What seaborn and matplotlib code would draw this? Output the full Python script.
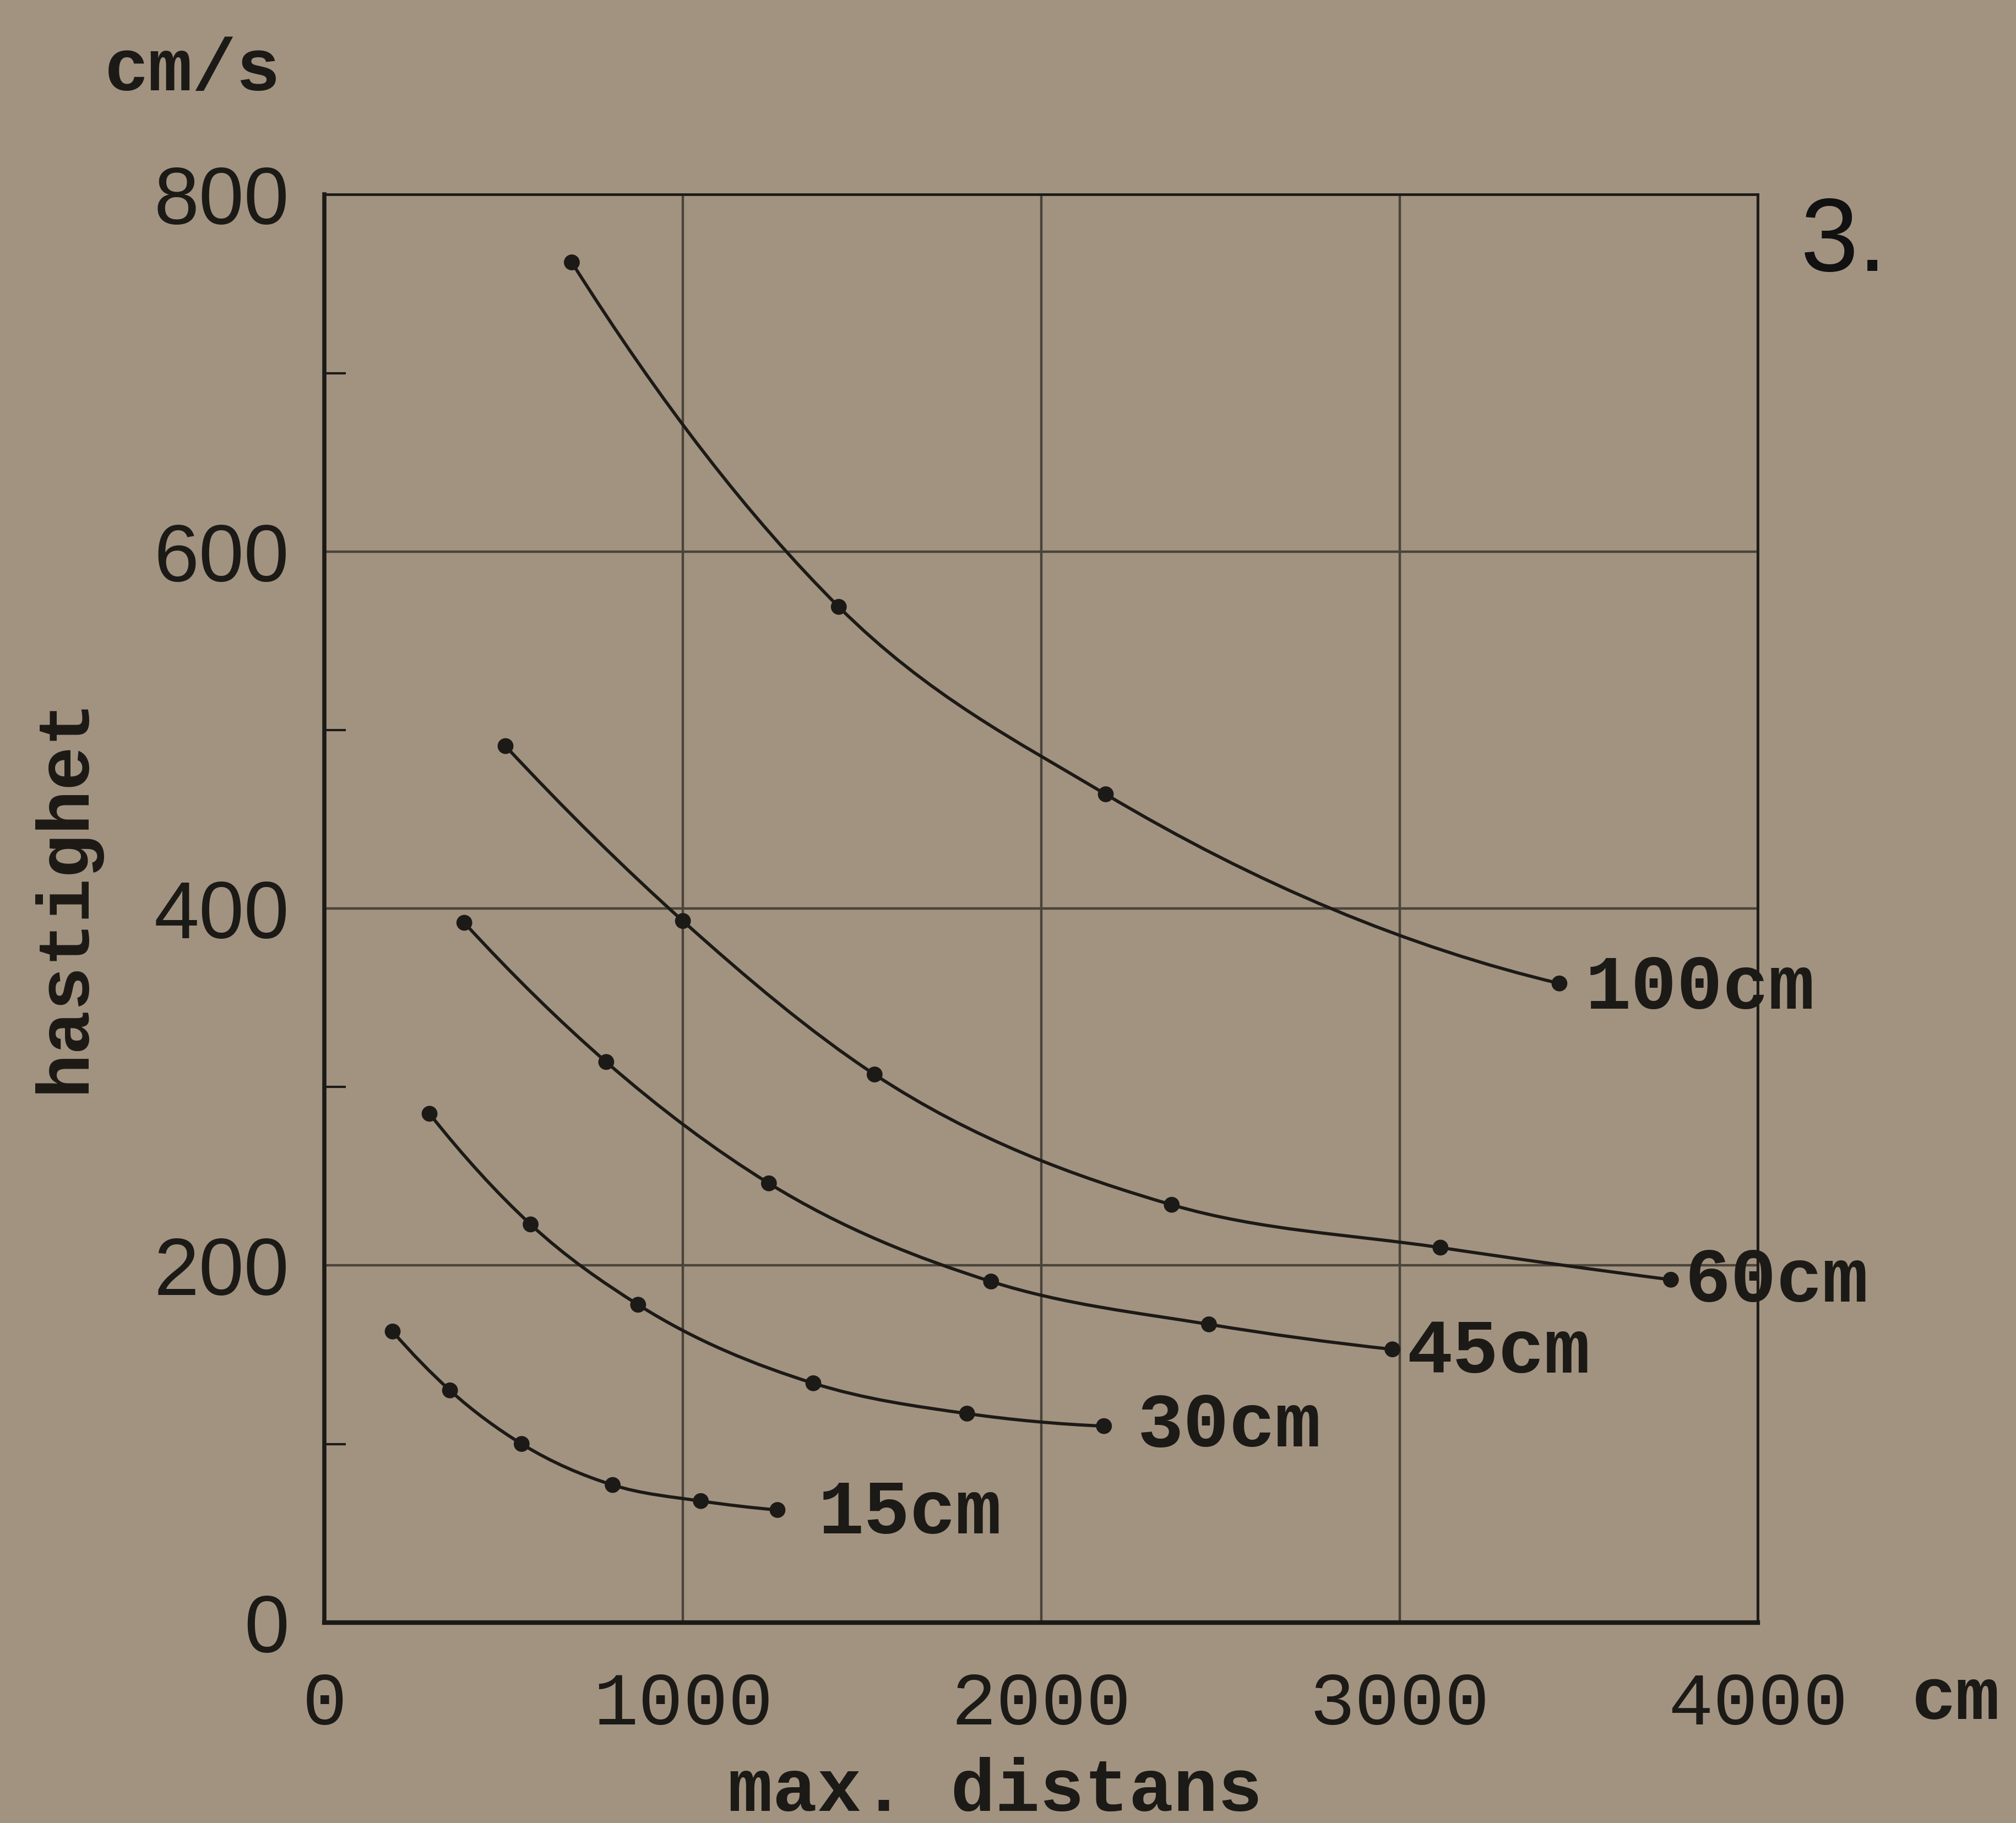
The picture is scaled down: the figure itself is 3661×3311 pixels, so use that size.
"""
Hastighet mot max. distans for olika fallhojder (fig. 3)
"""

import matplotlib

matplotlib.use("Agg")
import matplotlib.pyplot as plt
import numpy as np
import pandas as pd
import seaborn as sns
from matplotlib.patches import PathPatch
from matplotlib.path import Path

# Data (distance in cm, speed in cm/s)
depth_labels = ["100cm", "60cm", "45cm", "30cm", "15cm"]

dist_100 = [690, 1435, 2180, 3446]
speed_100 = [762, 569, 464, 358]

dist_60 = [505, 1000, 1535, 2364, 3114, 3757]
speed_60 = [491, 393, 307, 234, 210, 192]

dist_45 = [390, 786, 1240, 1860, 2468, 2980]
speed_45 = [392, 314, 246, 191, 167, 153]

dist_30 = [293, 575, 875, 1364, 1793, 2175]
speed_30 = [285, 223, 178, 134, 117, 110]

dist_15 = [190, 350, 550, 804, 1050, 1264]
speed_15 = [163, 130, 100, 77, 68, 63]

x_ticks = [0, 1000, 2000, 3000, 4000]
y_ticks = [0, 200, 400, 600, 800]
y_minor = [100, 300, 500, 700]

series = {
    "100cm": (dist_100, speed_100),
    "60cm": (dist_60, speed_60),
    "45cm": (dist_45, speed_45),
    "30cm": (dist_30, speed_30),
    "15cm": (dist_15, speed_15),
}

# label offsets from the last point, in points
label_offset = {
    "100cm": (34, -6),
    "60cm": (18, -2),
    "45cm": (18, -4),
    "30cm": (44, 0),
    "15cm": (53, -4),
}

PAPER = "#a29381"
INK = "#1c1a16"
GRID = "#4a443a"


def smooth_path(x, y):
    """Smooth Hermite curve y(x) through the points, as cubic Bezier segments"""
    x = np.asarray(x, dtype=float)
    y = np.asarray(y, dtype=float)
    h = np.diff(x)
    d = np.diff(y) / h
    n = len(x)
    m = np.empty(n)
    m[1:-1] = (h[:-1] * d[1:] + h[1:] * d[:-1]) / (h[:-1] + h[1:])
    m[0] = d[0] + (d[0] - d[1]) * h[0] / (h[0] + h[1])
    m[-1] = d[-1] + (d[-1] - d[-2]) * h[-1] / (h[-1] + h[-2])
    verts = [(x[0], y[0])]
    codes = [Path.MOVETO]
    for i in range(n - 1):
        k = h[i] / 3
        verts += [
            (x[i] + k, y[i] + m[i] * k),
            (x[i + 1] - k, y[i + 1] - m[i + 1] * k),
            (x[i + 1], y[i + 1]),
        ]
        codes += [Path.CURVE4] * 3
    return Path(verts, codes)


sns.set_theme(style="ticks")
plt.rcParams["font.family"] = ["Liberation Mono", "DejaVu Sans"]

fig = plt.figure(figsize=(36.61, 33.12), dpi=100, facecolor=PAPER)
ax = fig.add_axes([0.161, 0.110, 0.711, 0.783], facecolor=PAPER)

df = pd.concat(
    [
        pd.DataFrame({"dist": d, "speed": s, "depth": name})
        for name, (d, s) in series.items()
    ],
    ignore_index=True,
)

for name, (d, s) in series.items():
    ax.add_patch(
        PathPatch(smooth_path(d, s), fill=False, lw=4.2, ec=INK, zorder=3)
    )

sns.scatterplot(
    data=df,
    x="dist",
    y="speed",
    hue="depth",
    palette={n: INK for n in depth_labels},
    s=430,
    edgecolor=INK,
    linewidth=0,
    legend=False,
    zorder=4,
    ax=ax,
)

for name, (d, s) in series.items():
    ax.annotate(
        name,
        xy=(d[-1], s[-1]),
        xytext=label_offset[name],
        textcoords="offset points",
        ha="left",
        va="center",
        fontsize=100,
        fontweight="bold",
        color=INK,
        zorder=5,
    )

ax.set_xlim(0, 4000)
ax.set_ylim(0, 800)
ax.set_xticks(x_ticks)
ax.set_yticks(y_ticks)
ax.set_yticks(y_minor, minor=True)
ax.set_xticklabels([str(v) for v in x_ticks], fontsize=98, color=INK)
ax.set_yticklabels(
    [str(v) for v in y_ticks], fontsize=106, color=INK, family="Liberation Sans"
)
ax.tick_params(axis="both", which="major", length=0, pad=46)
ax.tick_params(axis="x", which="major", pad=62)
ax.tick_params(
    axis="y", which="minor", direction="in", length=28, width=3, color=INK
)

ax.grid(True, which="major", color=GRID, lw=3.2)
ax.set_axisbelow(True)

for side, lw in [("left", 5.5), ("bottom", 6.0), ("top", 3.4), ("right", 3.4)]:
    ax.spines[side].set_visible(True)
    ax.spines[side].set_linewidth(lw)
    ax.spines[side].set_color(INK)

ax.set_xlabel("max. distans", fontsize=97, fontweight="bold", color=INK)
ax.xaxis.label.set_va("center")
ax.xaxis.set_label_coords(0.468, -0.118)
ax.set_ylabel("hastighet", fontsize=96, fontweight="bold", color=INK)
ax.yaxis.label.set_va("center")
ax.yaxis.set_label_coords(-0.181, 0.510)

fig.text(0.0956, 0.961, "cm/s", fontsize=96, fontweight="bold", color=INK,
         ha="center", va="center")
ax.text(1.138, -0.054, "cm", transform=ax.transAxes, fontsize=96,
        fontweight="bold", color=INK, ha="center", va="center")
ax.text(1.060, 0.966, "3.", transform=ax.transAxes, fontsize=136,
        color="#111111", ha="center", va="center", family="Liberation Sans")

fig.savefig("out.png", dpi=100, facecolor=PAPER)
plt.close(fig)
